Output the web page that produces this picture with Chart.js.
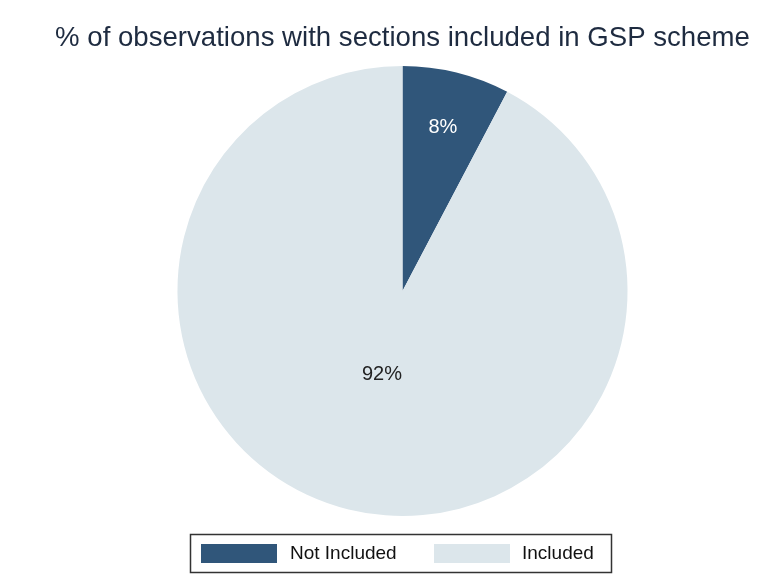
<!DOCTYPE html>
<html lang="en">
<head>
    <meta charset="UTF-8">
    <title>GSP scheme pie</title>
    <style>
        body {
            margin: 0;
            background: #fff;
        }
        .wrap {
            width: 783px;
            height: 576px;
        }
    </style>
</head>
<body>
    <div class="wrap">
        <canvas id="pie" width="783" height="576"></canvas>
    </div>

    <script src="https://cdn.jsdelivr.net/npm/chart.js"></script>
    <script>
        const labels = ['Not Included', 'Included'];
        const shares = [7.7, 92.3];
        const colors = ['#30567a', '#dce6eb'];
        const labelColors = ['#ffffff', '#222222'];
        const labelRadius = [0.75, 0.38];

        // percent labels inside slices
        const sliceLabels = {
            id: 'sliceLabels',
            afterDatasetsDraw(chart) {
                const ctx = chart.ctx;
                const meta = chart.getDatasetMeta(0);
                ctx.save();
                ctx.font = '20px "Liberation Sans", Arial, sans-serif';
                ctx.textAlign = 'center';
                ctx.textBaseline = 'middle';
                meta.data.forEach((arc, i) => {
                    const mid = (arc.startAngle + arc.endAngle) / 2;
                    const r = arc.outerRadius * labelRadius[i];
                    ctx.fillStyle = labelColors[i];
                    ctx.fillText(Math.round(shares[i]) + '%', arc.x + Math.cos(mid) * r, arc.y + Math.sin(mid) * r);
                });
                ctx.restore();
            }
        };

        // boxed legend at the bottom
        const boxLegend = {
            id: 'boxLegend',
            afterDraw(chart) {
                const ctx = chart.ctx;
                ctx.save();
                ctx.strokeStyle = '#333';
                ctx.lineWidth = 1.5;
                ctx.strokeRect(190.5, 534.5, 421, 38);
                const boxX = [201, 434];
                const textX = [290, 522];
                ctx.font = '19px "Liberation Sans", Arial, sans-serif';
                ctx.textBaseline = 'middle';
                labels.forEach((lab, i) => {
                    ctx.fillStyle = colors[i];
                    ctx.fillRect(boxX[i], 544, 76, 19);
                    ctx.fillStyle = '#111';
                    ctx.fillText(lab, textX[i], 554);
                });
                ctx.restore();
            }
        };

        new Chart(document.getElementById('pie'), {
            type: 'pie',
            data: {
                labels: labels,
                datasets: [{
                    data: shares,
                    backgroundColor: colors,
                    borderWidth: 0
                }]
            },
            options: {
                responsive: false,
                animation: false,
                layout: { padding: { top: 10, bottom: 60, left: 22, right: 0 } },
                plugins: {
                    legend: { display: false },
                    tooltip: { enabled: false },
                    title: {
                        display: true,
                        text: '% of observations with sections included in GSP scheme',
                        color: '#1e2b40',
                        font: { family: '"Liberation Sans", Arial, sans-serif', size: 27.6, weight: 'normal' },
                        padding: { top: 11.4, bottom: 11.4 }
                    }
                }
            },
            plugins: [sliceLabels, boxLegend]
        });
    </script>
</body>
</html>
